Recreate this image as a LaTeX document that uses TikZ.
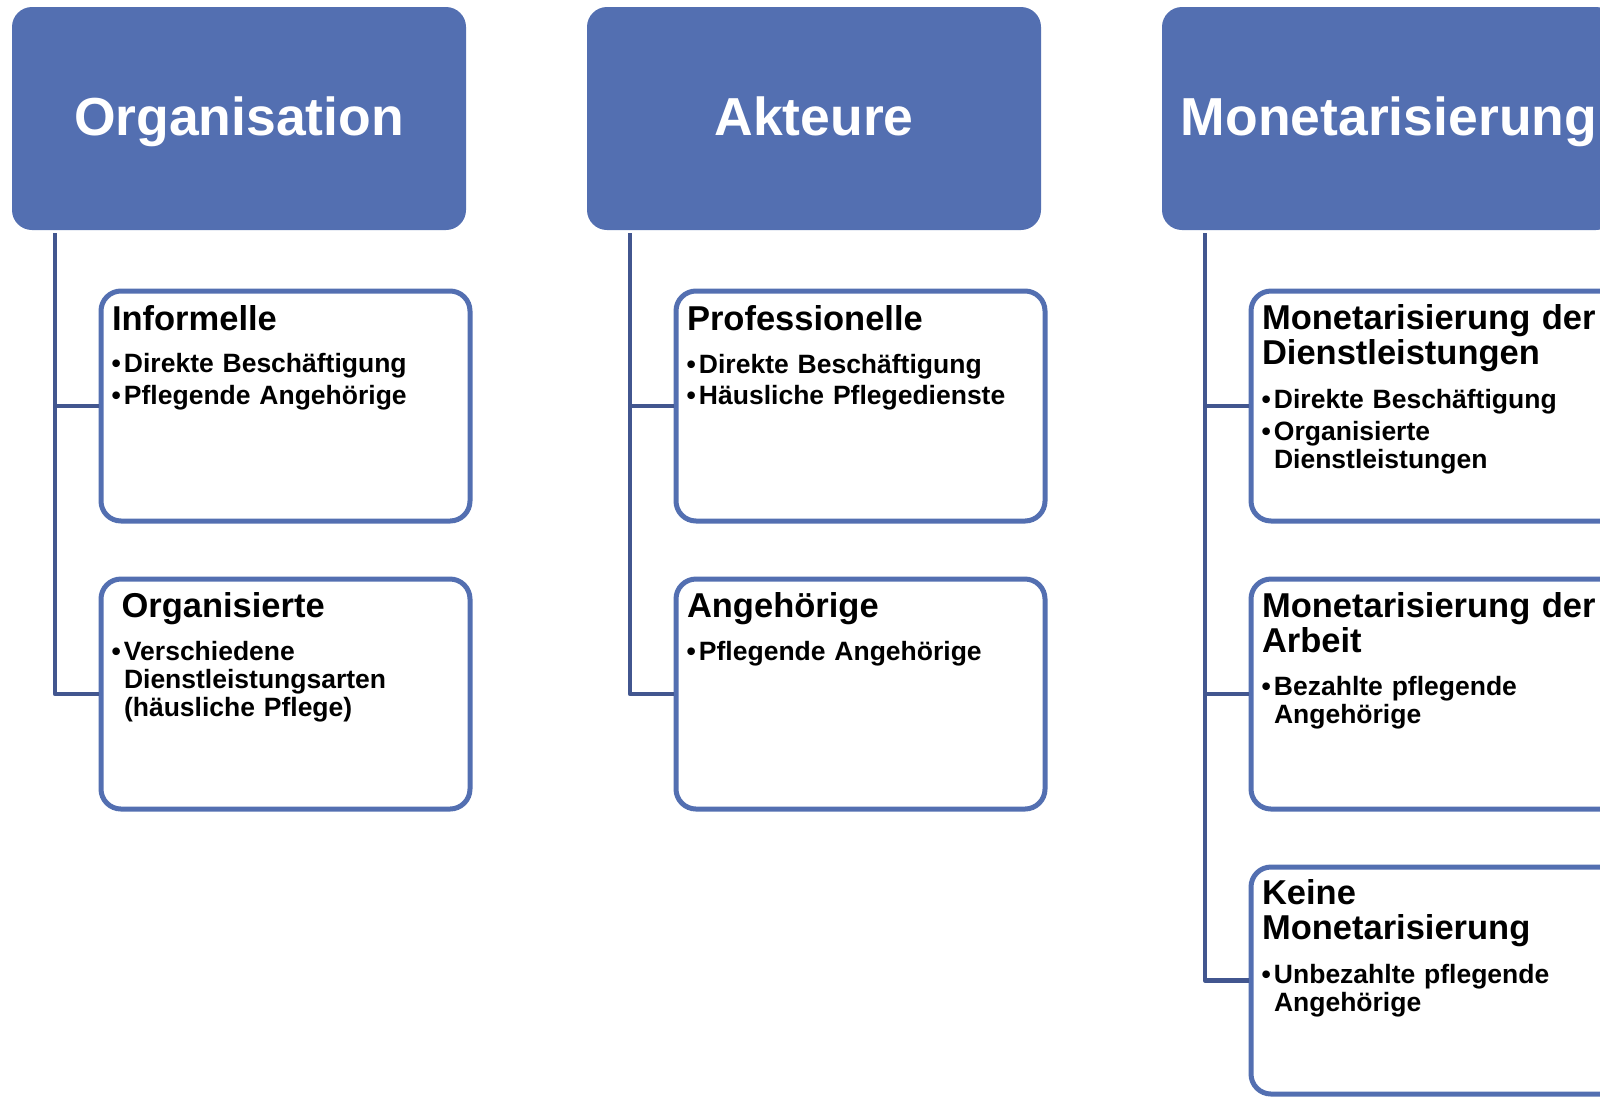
\documentclass[tikz,border=0pt]{standalone}
\usepackage{fontspec}
\setmainfont{Liberation Sans}
\definecolor{hdr}{RGB}{83,111,177}
\definecolor{connc}{RGB}{66,86,143}
\newcommand\bpt{\makebox[12.5pt][l]{•}}
\newcommand\bind{\hspace*{12.5pt}}
\begin{document}
\begin{tikzpicture}[x=1pt,y=-1pt,
  head/.style={fill=hdr, rounded corners=20pt, minimum width=454pt, minimum height=223pt,
    anchor=north west, inner sep=0pt, outer sep=0pt, text=white,
    font=\bfseries\fontsize{53.5}{56}\selectfont, text height=44pt, text depth=11pt},
  child/.style={draw=hdr, line width=5pt, fill=white, rounded corners=20pt,
    minimum width=369pt, minimum height=230pt, anchor=north west, inner sep=0pt, outer sep=0pt},
  ttl/.style={anchor=base west, inner sep=0pt, outer sep=0pt, text width=380pt, align=left,
    font=\bfseries\fontsize{34.5}{34.5}\selectfont},
  bul/.style={anchor=base west, inner sep=0pt, outer sep=0pt, text width=380pt, align=left,
    font=\bfseries\fontsize{26.5}{28}\selectfont},
  conn/.style={draw=connc, line width=4.8pt, line join=round}]
\useasboundingbox (0,0) rectangle (1600,1096);
\path[clip] (0,0) rectangle (1600,1096);

% headers
\node[head] (h1) at (12,7) {Organisation};
\node[head] (h2) at (587,7) {Akteure};
\node[head] (h3) at (1162,7) {Monetarisierung};

% child boxes
\node[child] (b11) at (101,291) {};
\node[child] (b12) at (101,579) {};
\node[child] (b21) at (676,291) {};
\node[child] (b22) at (676,579) {};
\node[child] (b31) at (1251,291) {};
\node[child] (b32) at (1251,579) {};
\node[child, minimum height=227pt] (b33) at (1251,867) {};

% connectors
\coordinate (v1) at ([xshift=43pt,yshift=-3pt]h1.south west);
\coordinate (v2) at ([xshift=43pt,yshift=-3pt]h2.south west);
\coordinate (v3) at ([xshift=43pt,yshift=-3pt]h3.south west);
\draw[conn] (v1) |- ([xshift=-2.5pt]b12.west);
\draw[conn] (b11.west -| v1) -- ([xshift=-2.5pt]b11.west);
\draw[conn] (v2) |- ([xshift=-2.5pt]b22.west);
\draw[conn] (b21.west -| v2) -- ([xshift=-2.5pt]b21.west);
\draw[conn] (v3) |- ([xshift=-2.5pt]b33.west);
\draw[conn] (b31.west -| v3) -- ([xshift=-2.5pt]b31.west);
\draw[conn] (b32.west -| v3) -- ([xshift=-2.5pt]b32.west);

% column 1 texts
\node[ttl] (t11) at ([xshift=11pt,yshift=-39pt]b11.north west) {Informelle};
\node[bul] (p111) at ([xshift=10.5pt,yshift=-81.5pt]b11.north west) {\bpt Direkte Beschäftigung};
\node[bul] (p112) at ([xshift=10.5pt,yshift=-113pt]b11.north west) {\bpt Pflegende Angehörige};

\node[ttl] (t12) at ([xshift=20.5pt,yshift=-38.5pt]b12.north west) {Organisierte};
\node[bul] (p121) at ([xshift=10.5pt,yshift=-81pt]b12.north west) {\bpt Verschiedene\\\bind Dienstleistungsarten\\\bind (häusliche Pflege)};

% column 2 texts
\node[ttl] (t21) at ([xshift=11pt,yshift=-39pt]b21.north west) {Professionelle};
\node[bul] (p211) at ([xshift=10.5pt,yshift=-82pt]b21.north west) {\bpt Direkte Beschäftigung};
\node[bul] (p212) at ([xshift=10.5pt,yshift=-113.5pt]b21.north west) {\bpt Häusliche Pflegedienste};

\node[ttl] (t22) at ([xshift=11pt,yshift=-38.5pt]b22.north west) {Angehörige};
\node[bul] (p221) at ([xshift=10.5pt,yshift=-81pt]b22.north west) {\bpt Pflegende Angehörige};

% column 3 texts
\node[ttl] (t31) at ([xshift=11pt,yshift=-38.5pt]b31.north west) {Monetarisierung der\\Dienstleistungen};
\node[bul] (p311) at ([xshift=10.5pt,yshift=-117.5pt]b31.north west) {\bpt Direkte Beschäftigung};
\node[bul] (p312) at ([xshift=10.5pt,yshift=-149.5pt]b31.north west) {\bpt Organisierte\\\bind Dienstleistungen};

\node[ttl] (t32) at ([xshift=11pt,yshift=-38.5pt]b32.north west) {Monetarisierung der\\Arbeit};
\node[bul] (p321) at ([xshift=10.5pt,yshift=-116.5pt]b32.north west) {\bpt Bezahlte pflegende\\\bind Angehörige};

\node[ttl] (t33) at ([xshift=11pt,yshift=-37.5pt]b33.north west) {Keine\\Monetarisierung};
\node[bul] (p331) at ([xshift=10.5pt,yshift=-116.5pt]b33.north west) {\bpt Unbezahlte pflegende\\\bind Angehörige};
\end{tikzpicture}
\end{document}
